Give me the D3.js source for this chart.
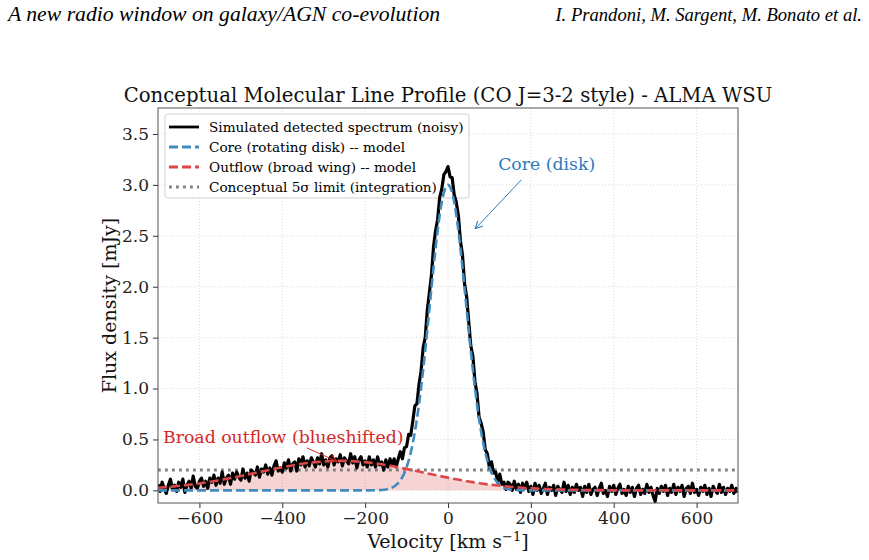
<!DOCTYPE html>
<html>
<head>
<meta charset="utf-8">
<script src="https://cdn.jsdelivr.net/npm/d3@7"></script>
<style>
  body { margin: 0; background: #fff; }
  svg text { font-family: "DejaVu Serif", serif; }
</style>
</head>
<body>
<div id="container"></div>
<script>
// ---- data ----
const xTicks = [-600, -400, -200, 0, 200, 400, 600];
const yTicks = [0, 0.5, 1.0, 1.5, 2.0, 2.5, 3.0, 3.5];

// noisy spectrum, one channel every 5 km/s from -700 to +700
const chanStart = -700;
const chanStep = 5;
const spectrum = [
  0.06, -0.01, 0.08, 0.02, -0.03, 0.05, 0.11, 0.01, 0.05, -0.01,   // -700
  0.08, 0.03, 0.11, -0.02, 0.05, 0.09, 0.02, 0.14, 0.04, 0.02,     // -650
  0.09, 0.12, 0.04, 0.09, 0.02, 0.12, 0.08, 0.15, 0.05, 0.12,      // -600
  0.07, 0.18, 0.06, 0.12, 0.15, 0.06, 0.17, 0.11, 0.18, 0.13,      // -550
  0.10, 0.21, 0.12, 0.17, 0.09, 0.20, 0.18, 0.15, 0.23, 0.13,      // -500
  0.21, 0.18, 0.25, 0.16, 0.22, 0.15, 0.24, 0.29, 0.19, 0.22,      // -450
  0.18, 0.27, 0.22, 0.30, 0.19, 0.26, 0.28, 0.19, 0.31, 0.25,      // -400
  0.33, 0.23, 0.29, 0.24, 0.32, 0.28, 0.23, 0.32, 0.26, 0.36,      // -350
  0.25, 0.30, 0.23, 0.32, 0.34, 0.25, 0.31, 0.28, 0.35, 0.24,      // -300
  0.32, 0.29, 0.26, 0.36, 0.27, 0.33, 0.22, 0.30, 0.33, 0.25,      // -250
  0.29, 0.23, 0.33, 0.25, 0.30, 0.23, 0.33, 0.25, 0.28, 0.20,      // -200
  0.30, 0.23, 0.31, 0.25, 0.31, 0.23, 0.31, 0.38, 0.31, 0.42,      // -150
  0.43, 0.55, 0.54, 0.68, 0.83, 0.85, 1.04, 1.17, 1.40, 1.50,      // -100
  1.77, 1.94, 2.11, 2.39, 2.55, 2.66, 2.88, 2.96, 3.10, 3.13,      // -50
  3.18, 3.08, 3.07, 2.90, 2.83, 2.70, 2.45, 2.31, 2.03, 1.90,      // 0
  1.66, 1.42, 1.32, 1.07, 0.95, 0.72, 0.66, 0.57, 0.40, 0.36,      // 50
  0.22, 0.28, 0.17, 0.18, 0.08, 0.16, 0.06, 0.08, 0.01, 0.08,      // 100
  0.06, 0.00, 0.09, 0.01, 0.06, -0.02, 0.07, 0.02, 0.08, -0.01,    // 150
  0.04, -0.04, 0.07, 0.00, 0.05, -0.03, 0.02, 0.07, -0.04, 0.03,   // 200
  0.00, 0.05, -0.05, 0.04, 0.01, -0.02, 0.08, -0.01, 0.05, -0.04,  // 250
  0.03, -0.02, 0.06, 0.00, 0.03, -0.06, 0.04, -0.02, 0.06, -0.04,  // 300
  0.01, 0.03, -0.05, 0.02, 0.07, -0.03, 0.00, -0.06, 0.04, -0.01,  // 350
  0.05, -0.04, 0.02, 0.06, -0.03, 0.01, -0.05, 0.04, -0.02, 0.03,  // 400
  -0.06, 0.02, 0.05, -0.04, 0.01, -0.03, 0.06, -0.02, 0.03, -0.05, // 450
  -0.11, 0.02, -0.03, 0.04, -0.01, 0.05, -0.05, 0.02, -0.02, 0.06, // 500
  -0.04, 0.03, -0.01, 0.05, -0.06, 0.02, 0.04, -0.03, 0.07, -0.02, // 550
  0.01, -0.05, 0.03, -0.01, 0.05, -0.04, 0.02, -0.06, 0.04, 0.00,  // 600
  -0.03, 0.06, -0.02, 0.03, -0.04, 0.02, -0.01, 0.05, -0.03, 0.02, // 650
  -0.02                                                             // 700
];

// core (rotating disk) model
const coreVel = [-700, -200, -190, -180, -170, -160, -150, -140, -130, -120, -110,
  -100, -90, -80, -70, -60, -50, -40, -30, -20, -10, 0,
  10, 20, 30, 40, 50, 60, 70, 80, 90, 100,
  110, 120, 130, 140, 150, 160, 170, 180, 190, 200, 700];
const coreFlux = [0, 0, 0, 0.001, 0.002, 0.004, 0.009, 0.019, 0.038, 0.073, 0.132,
  0.227, 0.370, 0.575, 0.846, 1.184, 1.573, 1.983, 2.377, 2.706, 2.924, 3.000,
  2.924, 2.706, 2.377, 1.983, 1.573, 1.184, 0.846, 0.575, 0.370, 0.227,
  0.132, 0.073, 0.038, 0.019, 0.009, 0.004, 0.002, 0.001, 0, 0, 0];

// outflow (broad wing) model, every 20 km/s from -700 to +700
const outVel = d3.range(-700, 701, 20);
const outFlux = [
  0.026, 0.032, 0.039, 0.048, 0.057, 0.068, 0.081, 0.094, 0.109, 0.125,
  0.141, 0.158, 0.176, 0.193, 0.211, 0.227, 0.242, 0.256, 0.268, 0.277,
  0.284, 0.289, 0.290, 0.289, 0.284, 0.277, 0.268, 0.256, 0.242, 0.227,
  0.211, 0.193, 0.176, 0.158, 0.141, 0.125, 0.109, 0.094, 0.081, 0.068,
  0.057, 0.048, 0.039, 0.032, 0.026, 0.021, 0.016, 0.013, 0.010, 0.008,
  0.006, 0.004, 0.003, 0.002, 0.002, 0.001, 0, 0, 0, 0,
  0, 0, 0, 0, 0, 0, 0, 0, 0, 0, 0
];

const limit5sigma = 0.2;

const legendLabels = [
  "Simulated detected spectrum (noisy)",
  "Core (rotating disk) -- model",
  "Outflow (broad wing) -- model",
  "Conceptual 5\u03c3 limit (integration)"
];

// ---- layout ----
let w = 869;
let h = 560;
let margin = { top: 108, right: 131, bottom: 57, left: 158 };
let pw = w - margin.left - margin.right;
let ph = h - margin.top - margin.bottom;

let colBlack = "#000";
let colCore = "#418bbf";
let colOut = "#dc4748";
let colLimit = "#808080";

let svg = d3.select("#container")
  .append("svg")
  .attr("width", w)
  .attr("height", h);

// page header
svg.append("text")
  .attr("x", 8).attr("y", 21)
  .style("font-family", "'Liberation Serif', serif")
  .style("font-style", "italic")
  .style("font-size", "21.7px")
  .text("A new radio window on galaxy/AGN co-evolution");
svg.append("text")
  .attr("x", 862).attr("y", 21)
  .attr("text-anchor", "end")
  .style("font-family", "'Liberation Serif', serif")
  .style("font-style", "italic")
  .style("font-size", "18.6px")
  .text("I. Prandoni, M. Sargent, M. Bonato et al.");

let defs = svg.append("defs");
defs.append("clipPath").attr("id", "clip")
  .append("rect").attr("width", pw).attr("height", ph);

function arrowMarker(id, color) {
  defs.append("marker")
    .attr("id", id)
    .attr("viewBox", "0 0 10 10")
    .attr("refX", 9).attr("refY", 5)
    .attr("markerWidth", 9).attr("markerHeight", 9)
    .attr("markerUnits", "userSpaceOnUse")
    .attr("orient", "auto")
    .append("path")
    .attr("d", "M1,1 L9,5 L1,9")
    .attr("fill", "none")
    .attr("stroke", color)
    .attr("stroke-width", 1.2);
}
arrowMarker("arrowCore", "#2b7bba");
arrowMarker("arrowOut", "#d62728");

let viz = svg.append("g")
  .attr("transform", "translate(" + margin.left + "," + margin.top + ")");

let xScale = d3.scaleLinear().domain([-700, 700]).range([0, pw]);
let yScale = d3.scaleLinear().domain([-0.124, 3.755]).range([ph, 0]);

// grid
viz.append("g").selectAll("line").data(xTicks).join("line")
  .attr("x1", d => xScale(d)).attr("x2", d => xScale(d))
  .attr("y1", 0).attr("y2", ph)
  .attr("stroke", "#d0d0d0").attr("stroke-width", 0.8)
  .attr("stroke-dasharray", "1,2");
viz.append("g").selectAll("line").data(yTicks).join("line")
  .attr("x1", 0).attr("x2", pw)
  .attr("y1", d => yScale(d)).attr("y2", d => yScale(d))
  .attr("stroke", "#d0d0d0").attr("stroke-width", 0.8)
  .attr("stroke-dasharray", "1,2");

// legend frame (sits under the data, like the figure)
let lg = viz.append("g").attr("transform", "translate(7,6)");
lg.append("rect")
  .attr("width", 304).attr("height", 84)
  .attr("rx", 3)
  .attr("fill", "#fff").attr("fill-opacity", 0.85)
  .attr("stroke", "#d0d0d0").attr("stroke-width", 1);

let plot = viz.append("g").attr("clip-path", "url(#clip)");

let outData = outVel.map((v, i) => [v, outFlux[i]]);
let coreData = coreVel.map((v, i) => [v, coreFlux[i]]);
let specData = spectrum.map((f, i) => [chanStart + i * chanStep, f]);

// outflow shading
plot.append("path")
  .datum(outData)
  .attr("fill", "#d62728")
  .attr("fill-opacity", 0.2)
  .attr("d", d3.area()
    .x(d => xScale(d[0]))
    .y0(yScale(0))
    .y1(d => yScale(d[1]))
    .curve(d3.curveMonotoneX));

// 5 sigma limit
plot.append("line")
  .attr("x1", xScale(-700)).attr("x2", xScale(700))
  .attr("y1", yScale(limit5sigma)).attr("y2", yScale(limit5sigma))
  .attr("stroke", colLimit).attr("stroke-width", 2.8)
  .attr("stroke-dasharray", "2.8,4.2");

// noisy spectrum
plot.append("path")
  .datum(specData)
  .attr("fill", "none")
  .attr("stroke", colBlack)
  .attr("stroke-width", 3.2)
  .attr("stroke-linejoin", "round")
  .attr("d", d3.line().x(d => xScale(d[0])).y(d => yScale(d[1])));

// core model
plot.append("path")
  .datum(coreData)
  .attr("fill", "none")
  .attr("stroke", colCore)
  .attr("stroke-width", 2.6)
  .attr("stroke-dasharray", "9,4")
  .attr("d", d3.line().x(d => xScale(d[0])).y(d => yScale(d[1])).curve(d3.curveMonotoneX));

// outflow model
plot.append("path")
  .datum(outData)
  .attr("fill", "none")
  .attr("stroke", colOut)
  .attr("stroke-width", 2.6)
  .attr("stroke-dasharray", "9,4")
  .attr("d", d3.line().x(d => xScale(d[0])).y(d => yScale(d[1])).curve(d3.curveMonotoneX));

// annotations
viz.append("text")
  .attr("x", xScale(121)).attr("y", yScale(3.15))
  .attr("fill", "#2b7bba")
  .style("font-size", "17.3px")
  .text("Core (disk)");
viz.append("line")
  .attr("x1", xScale(177)).attr("y1", yScale(3.05))
  .attr("x2", xScale(66)).attr("y2", yScale(2.57))
  .attr("stroke", "#2b7bba").attr("stroke-width", 1)
  .attr("marker-end", "url(#arrowCore)");

viz.append("text")
  .attr("x", xScale(-688)).attr("y", yScale(0.47))
  .attr("fill", "#d62728")
  .style("font-size", "17.3px")
  .text("Broad outflow (blueshifted)");
viz.append("line")
  .attr("x1", xScale(-341)).attr("y1", yScale(0.417))
  .attr("x2", xScale(-268)).attr("y2", yScale(0.285))
  .attr("stroke", "#d62728").attr("stroke-width", 1)
  .attr("marker-end", "url(#arrowOut)");

// legend entries
let rows = lg.selectAll("g.row").data(legendLabels).join("g")
  .attr("class", "row")
  .attr("transform", (d, i) => "translate(0," + (13 + i * 20) + ")");
let handleStyles = [
  { c: colBlack, dash: null, wd: 2.8 },
  { c: colCore, dash: "9,4", wd: 2.8 },
  { c: colOut, dash: "9,4", wd: 2.8 },
  { c: colLimit, dash: "2.8,4.2", wd: 2.8 }
];
rows.append("line")
  .attr("x1", 4).attr("x2", 34)
  .attr("y1", 0).attr("y2", 0)
  .attr("stroke", (d, i) => handleStyles[i].c)
  .attr("stroke-width", (d, i) => handleStyles[i].wd)
  .attr("stroke-dasharray", (d, i) => handleStyles[i].dash);
rows.append("text")
  .attr("x", 44).attr("y", 0)
  .attr("dy", "0.35em")
  .style("font-size", "13.6px")
  .text(d => d);

// axes
let xAxis = viz.append("g")
  .attr("transform", "translate(0," + ph + ")")
  .call(d3.axisBottom(xScale).tickValues(xTicks).tickSize(5).tickPadding(4)
    .tickFormat(d => d < 0 ? "\u2212" + Math.abs(d) : String(d)));
let yAxis = viz.append("g")
  .call(d3.axisLeft(yScale).tickValues(yTicks).tickSize(5).tickPadding(4)
    .tickFormat(d3.format(".1f")));
[xAxis, yAxis].forEach(a => {
  a.select(".domain").remove();
  a.selectAll(".tick line").attr("stroke", "#333");
  a.selectAll(".tick text")
    .style("font-family", "'DejaVu Serif', serif")
    .style("font-size", "17px")
    .attr("fill", "#222");
});

// frame
viz.append("rect")
  .attr("width", pw).attr("height", ph)
  .attr("fill", "none")
  .attr("stroke", "#555").attr("stroke-width", 1);

// labels
viz.append("text")
  .attr("x", pw / 2).attr("y", -6)
  .attr("text-anchor", "middle")
  .style("font-size", "19.7px")
  .attr("fill", "#111")
  .text("Conceptual Molecular Line Profile (CO J=3-2 style) - ALMA WSU");

let xl = viz.append("text")
  .attr("x", pw / 2).attr("y", ph + 45)
  .attr("text-anchor", "middle")
  .style("font-size", "19px")
  .attr("fill", "#111");
xl.append("tspan").text("Velocity [km s");
xl.append("tspan").attr("dy", -7).style("font-size", "13px").text("\u22121");
xl.append("tspan").attr("dy", 7).text("]");

viz.append("text")
  .attr("transform", "translate(-42," + (ph / 2) + ") rotate(-90)")
  .attr("text-anchor", "middle")
  .style("font-size", "19px")
  .attr("fill", "#111")
  .text("Flux density [mJy]");
</script>
</body>
</html>
